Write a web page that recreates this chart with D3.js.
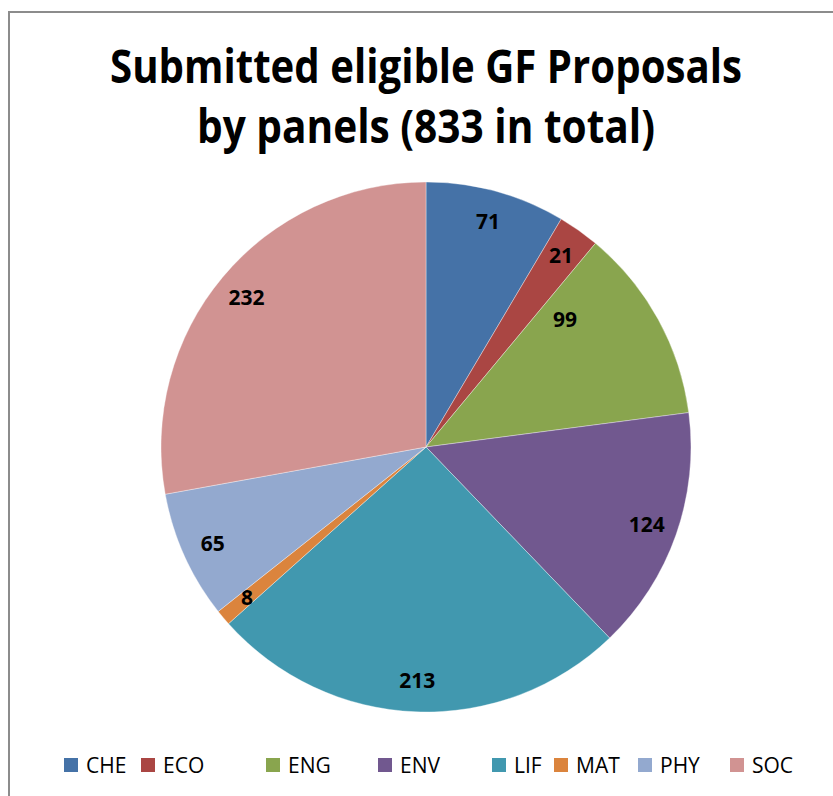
<!DOCTYPE html>
<html>
<head>
  <meta charset="utf-8">
  <script src="https://d3js.org/d3.v7.min.js"></script>
  <style>
    body { margin: 0; background: #fff; }
    svg { display: block; font-family: "Open Sans", sans-serif; }
  </style>
</head>
<body>
<script>
  // chart data
  var panels = ["CHE", "ECO", "ENG", "ENV", "LIF", "MAT", "PHY", "SOC"];
  var proposals = [71, 21, 99, 124, 213, 8, 65, 232];
  var colors = ["#4572A7", "#AA4643", "#89A54E", "#71588F", "#4198AF", "#DB843D", "#93A9CF", "#D19392"];
  var titleLines = ["Submitted eligible GF Proposals", "by panels (833 in total)"];

  // layout
  var width = 833, height = 796;
  var cx = 426, cy = 447, radius = 265;
  var legendX = [64, 141, 266, 378, 492, 554, 638, 730]; // Excel spaced them unevenly
  // the ENG label was dragged inwards in the original
  var labelNudge = [[0, 0], [0, 0], [-66, -15], [0, 0], [0, 0], [0, 0], [0, 0], [0, 0]];

  var svg = d3.select("body").append("svg")
    .attr("width", width)
    .attr("height", height);

  // chart frame (only left + top edge visible in the crop)
  svg.append("path")
    .attr("d", "M9," + height + "V12H" + width)
    .attr("fill", "none")
    .attr("stroke", "#8c8c8c")
    .attr("stroke-width", 2);

  // title
  svg.selectAll(".title")
    .data(titleLines)
    .enter().append("text")
    .attr("class", "title")
    .attr("x", 426)
    .attr("y", function(d, i) { return 83 + i * 60; })
    .attr("text-anchor", "middle")
    .attr("font-size", 46)
    .attr("font-weight", "bold")
    .attr("textLength", function(d, i) { return i === 0 ? 632 : 458; })
    .attr("lengthAdjust", "spacingAndGlyphs")
    .text(function(d) { return d; });

  var data = panels.map(function(p, i) {
    return { panel: p, value: proposals[i], color: colors[i], nudge: labelNudge[i] };
  });

  var pie = d3.pie()
    .sort(null)
    .value(function(d) { return d.value; });

  var arc = d3.arc().innerRadius(0).outerRadius(radius);
  var labelArc = d3.arc().innerRadius(234).outerRadius(234);

  var g = svg.append("g").attr("transform", "translate(" + cx + "," + cy + ")");
  var slices = g.selectAll(".slice")
    .data(pie(data))
    .enter().append("g")
    .attr("class", "slice");

  slices.append("path")
    .attr("d", arc)
    .attr("fill", function(d) { return d.data.color; })
    .attr("stroke", "#ffffff")
    .attr("stroke-opacity", 0.6)
    .attr("stroke-width", 0.6);

  slices.append("text")
    .attr("transform", function(d) {
      var c = labelArc.centroid(d);
      return "translate(" + (c[0] + d.data.nudge[0]) + "," + (c[1] + d.data.nudge[1]) + ")";
    })
    .attr("dy", "0.36em")
    .attr("text-anchor", "middle")
    .attr("font-size", 21)
    .attr("font-weight", "bold")
    .attr("fill", "#000")
    .text(function(d) { return d.data.value; });

  // legend
  var legend = svg.selectAll(".legend")
    .data(data)
    .enter().append("g")
    .attr("class", "legend")
    .attr("transform", function(d, i) { return "translate(" + legendX[i] + ",758)"; });

  legend.append("rect")
    .attr("width", 14)
    .attr("height", 14)
    .attr("fill", function(d) { return d.color; });

  legend.append("text")
    .attr("x", 22)
    .attr("y", 15)
    .attr("font-size", 21)
    .attr("fill", "#000")
    .text(function(d) { return d.panel; });
</script>
</body>
</html>
